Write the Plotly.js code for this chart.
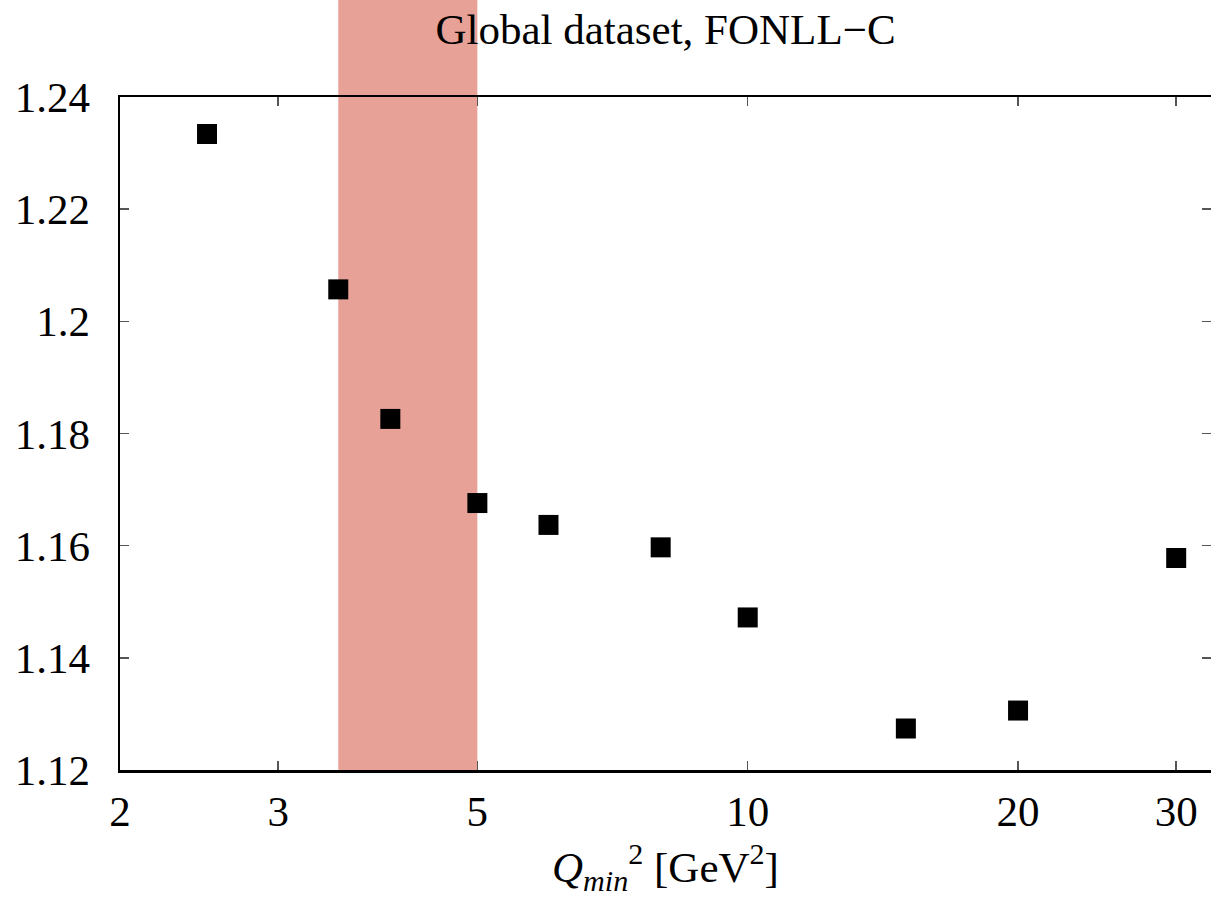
<!DOCTYPE html>
<html>
<head>
<meta charset="utf-8">
<script src="https://cdn.plot.ly/plotly-3.0.1.min.js"></script>
<style>html,body{margin:0;padding:0;background:#fff;}</style>
</head>
<body>
<div id="chart" style="width:1211px;height:907px;"></div>
<script>
// Data
const q2min = [2.5, 3.5, 4, 5, 6, 8, 10, 15, 20, 30];
const chi2 = [1.2334, 1.2057, 1.1826, 1.1676, 1.1637, 1.1597, 1.1472, 1.1274, 1.1306, 1.1578];
const bandRange = [3.5, 5];
const xTickVals = [2, 3, 5, 10, 20, 30];
const xTickText = ["2", "3", "5", "10", "20", "30"];
const yTickVals = [1.12, 1.14, 1.16, 1.18, 1.2, 1.22, 1.24];
const yTickText = ["1.12", "1.14", "1.16", "1.18", "1.2", "1.22", "1.24"];

const font = "Liberation Serif";
const fs = 43;

const trace = {
  x: q2min,
  y: chi2,
  type: "scatter",
  mode: "markers",
  marker: {symbol: "square", size: 20, color: "#000"},
  showlegend: false,
  cliponaxis: false
};

const layout = {
  width: 1211,
  height: 907,
  margin: {l: 120, r: 0, t: 97, b: 137},
  paper_bgcolor: "#fff",
  plot_bgcolor: "rgba(0,0,0,0)",
  font: {family: font, size: fs, color: "#000"},
  title: {
    text: "Global dataset, FONLL\u2212C",
    font: {family: font, size: fs, color: "#000"},
    x: 0.5, xanchor: "center", xref: "paper",
    y: 0.9686, yanchor: "middle"
  },
  xaxis: {
    type: "log",
    range: [Math.log10(2), Math.log10(32.8)],
    tickvals: xTickVals,
    ticktext: xTickText,
    ticks: "inside",
    ticklen: 9,
    tickwidth: 1.5,
    tickcolor: "#555",
    showline: true,
    linecolor: "#000",
    linewidth: 2.5,
    mirror: "ticks",
    showgrid: false,
    zeroline: false,
    tickfont: {family: font, size: fs, color: "#000"},
    ticklabelstandoff: 2,
    title: {
      text: "<i>Q<sub>min</sub></i><sup>2</sup> [GeV<sup>2</sup>]",
      font: {family: font, size: fs, color: "#000"},
      standoff: 18
    }
  },
  yaxis: {
    range: [1.12, 1.24],
    tickvals: yTickVals,
    ticktext: yTickText,
    ticks: "inside",
    ticklen: 9,
    tickwidth: 1.5,
    tickcolor: "#555",
    showline: true,
    linecolor: "#000",
    linewidth: 2.5,
    mirror: "ticks",
    showgrid: false,
    zeroline: false,
    tickfont: {family: font, size: fs, color: "#000"},
    ticklabelstandoff: 19
  },
  shapes: [{
    type: "rect",
    xref: "x", yref: "paper",
    x0: bandRange[0], x1: bandRange[1],
    y0: -0.004, y1: 1.15,
    fillcolor: "#e8a196",
    line: {width: 0},
    layer: "below"
  }]
};

Plotly.newPlot("chart", [trace], layout, {displayModeBar: false, staticPlot: true});
</script>
</body>
</html>
